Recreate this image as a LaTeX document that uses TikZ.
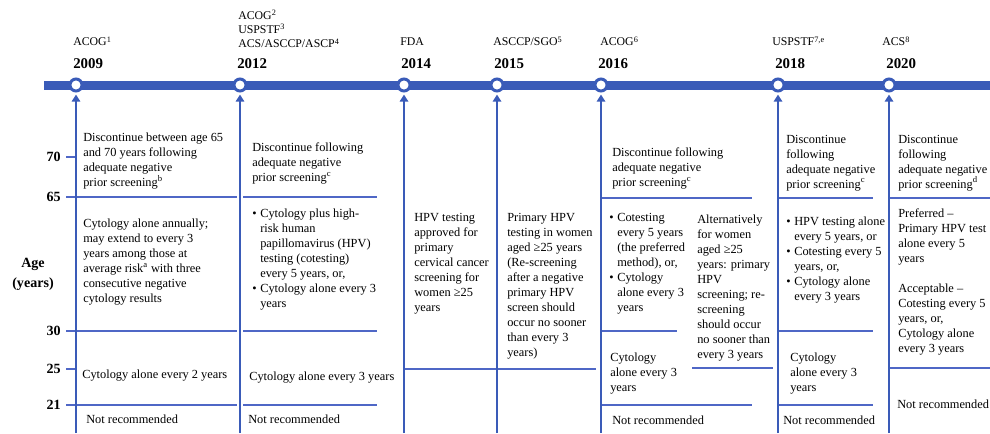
\documentclass[tikz,border=0pt]{standalone}
\usepackage{fontspec}
\setmainfont{Liberation Serif}
\usepackage{tikz}
\usetikzlibrary{arrows.meta, positioning}
\definecolor{timeB}{HTML}{3A5BB8}
\definecolor{gridB}{HTML}{4F67C6}

\newcommand{\cellFont}{\fontsize{8.8}{10.67}\selectfont}
\newcommand{\bul}{\makebox[5.7pt][l]{\textbullet}}
\newcommand{\ind}{\hspace*{5.7pt}}

\begin{document}
\begin{tikzpicture}[x = 0.025cm, y = -0.025cm,
    timeBar/.style = {timeB, line width = 6.4pt},
    yearDot/.style = {circle, draw = timeB, line width = 2.1pt, fill = white,
      minimum size = 0.3cm, inner sep = 0pt},
    timeArrow/.style = {timeB, line width = 2.1pt,
      -{Triangle[width = 6pt, length = 5pt]}, shorten > = 1.5pt},
    gridLine/.style = {gridB, line width = 0.9pt},
    yearText/.style = {font = \bfseries\fontsize{10.6}{12}\selectfont, inner sep = 0pt, anchor = west},
    orgText/.style = {font = \fontsize{8.4}{10}\selectfont, inner sep = 0pt, anchor = base west, align = left},
    ageText/.style = {font = \bfseries\fontsize{10}{12}\selectfont, inner sep = 0pt, anchor = east},
    cell/.style = {font = \cellFont, inner sep = 0pt, anchor = north west, align = left,
      yshift = -2pt, execute at begin node = \strut}]

  \useasboundingbox (0, 0) rectangle (990, 433);

  % ------------------------
  % age grid
  % ------------------------

  \draw[gridLine] (66, 157) -- (76, 157);
  \draw[gridLine] (66, 369) -- (76, 369);
  \foreach \yy in {197, 331, 405} {
    \draw[gridLine] (66, \yy) -- (237, \yy);
    \draw[gridLine] (243, \yy) -- (377, \yy);
  }
  \draw[gridLine] (405, 369) -- (596, 369);
  \draw[gridLine] (601, 198) -- (752, 198);
  \draw[gridLine] (601, 331) -- (677, 331);
  \draw[gridLine] (601, 405) -- (752, 405);
  \draw[gridLine] (692, 368) -- (773, 368);
  \foreach \yy in {198, 331, 405} {
    \draw[gridLine] (778, \yy) -- (873, \yy);
  }
  \draw[gridLine] (889, 198) -- (990, 198);
  \draw[gridLine] (889, 368) -- (990, 368);

  \foreach \age/\yy in {70/157, 65/197, 30/331, 25/369, 21/405} {
    \node[ageText] (a\age) at (61, \yy) {\age};
  }
  \node[font = \bfseries\fontsize{10}{14.2}\selectfont, align = center, inner sep = 0pt]
    (ageLabel) at (33, 274) {Age\\(years)};

  % ------------------------
  % timeline
  % ------------------------

  \coordinate (barL) at (44, 85);
  \coordinate (barR) at (990, 85);
  \draw[timeBar] (barL) -- (barR);

  \foreach \yr/\xx in {2009/76, 2012/240, 2014/404, 2015/497, 2016/601, 2018/778, 2020/889} {
    \node[yearDot] (c\yr) at (\xx, 85) {};
    \node[yearText] (y\yr) at (\xx - 3, 64) {\yr};
    \coordinate (b\yr) at (\xx, 433);
    \draw[timeArrow] (b\yr) -- (c\yr);
  }

  % multi-line label: base is its last line
  \node[orgText] (o2009) at (73, 46) {ACOG\textsuperscript{1}};
  \node[orgText] (o2012) at (238, 48) {ACOG\textsuperscript{2}\\USPSTF\textsuperscript{3}\\ACS/ASCCP/ASCP\textsuperscript{4}};
  \node[orgText] (o2014) at (400, 46) {FDA};
  \node[orgText] (o2015) at (493, 46) {ASCCP/SGO\textsuperscript{5}};
  \node[orgText] (o2016) at (600, 46) {ACOG\textsuperscript{6}};
  \node[orgText] (o2018) at (772, 46) {USPSTF\textsuperscript{7,e}};
  \node[orgText] (o2020) at (882, 46) {ACS\textsuperscript{8}};

  % ------------------------
  % recommendations
  % ------------------------

  % 2009
  \node[cell] (r2009a) at (83, 130) {Discontinue between age 65\\and 70 years following\\adequate negative\\prior screening\textsuperscript{b}};
  \node[cell] (r2009b) at (83, 216) {Cytology alone annually;\\may extend to every 3\\years among those at\\average risk\textsuperscript{a} with three\\consecutive negative\\cytology results};
  \node[cell] (r2009c) at (82, 365) {Cytology alone every 2 years};
  \node[cell] (r2009d) at (86, 410) {Not recommended};

  % 2012
  \node[cell] (r2012a) at (252, 140) {Discontinue following\\adequate negative\\prior screening\textsuperscript{c}};
  \node[cell] (r2012b) at (252, 206) {\bul Cytology plus high-\\\ind risk human\\\ind papillomavirus (HPV)\\\ind testing (cotesting)\\\ind every 5 years, or,\\\bul Cytology alone every 3\\\ind years};
  \node[cell] (r2012c) at (249, 367) {Cytology alone every 3 years};
  \node[cell] (r2012d) at (248, 410) {Not recommended};

  % 2014
  \node[cell] (r2014a) at (414, 210) {HPV testing\\approved for\\primary\\cervical cancer\\screening for\\women ≥25\\years};

  % 2015
  \node[cell] (r2015a) at (507, 210) {Primary HPV\\testing in women\\aged ≥25 years\\(Re-screening\\after a negative\\primary HPV\\screen should\\occur no sooner\\than every 3\\years)};

  % 2016
  \node[cell] (r2016a) at (612, 145) {Discontinue following\\adequate negative\\prior screening\textsuperscript{c}};
  \node[cell] (r2016b) at (609, 210) {\bul Cotesting\\\ind every 5 years\\\ind (the preferred\\\ind method), or,\\\bul Cytology\\\ind alone every 3\\\ind years};
  \node[cell] (r2016c) at (697, 212) {Alternatively\\for women\\aged ≥25\\years: primary\\HPV\\screening; re-\\screening\\should occur\\no sooner than\\every 3 years};
  \node[cell] (r2016d) at (610, 350) {Cytology\\alone every 3\\years};
  \node[cell] (r2016e) at (612, 411) {Not recommended};

  % 2018
  \node[cell] (r2018a) at (786, 132) {Discontinue\\following\\adequate negative\\prior screening\textsuperscript{c}};
  \node[cell] (r2018b) at (786, 214) {\bul HPV testing alone\\\ind every 5 years, or\\\bul Cotesting every 5\\\ind years, or,\\\bul Cytology alone\\\ind every 3 years};
  \node[cell] (r2018c) at (790, 350) {Cytology\\alone every 3\\years};
  \node[cell] (r2018d) at (783, 411) {Not recommended};

  % 2020
  \node[cell] (r2020a) at (898, 132) {Discontinue\\following\\adequate negative\\prior screening\textsuperscript{d}};
  \node[cell] (r2020b) at (898, 206) {Preferred --\\Primary HPV test\\alone every 5\\years};
  \node[cell] (r2020c) at (898, 281) {Acceptable --\\Cotesting every 5\\years, or,\\Cytology alone\\every 3 years};
  \node[cell] (r2020d) at (897, 395) {Not recommended};
\end{tikzpicture}
\end{document}
